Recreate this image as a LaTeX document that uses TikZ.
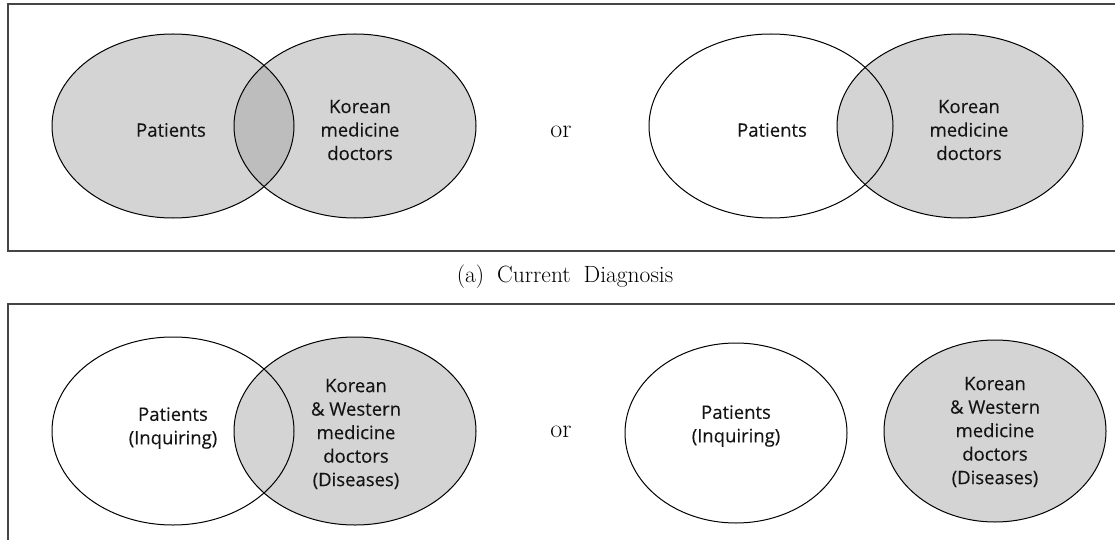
\documentclass[tikz,border=0pt]{standalone}
\usepackage{fontspec}
\newfontfamily\venn{Open Sans}[FakeBold=0.15]
\begin{document}
\begin{tikzpicture}[x=1pt,y=-1pt,
  vennfill/.style={fill=vgrey},
  vennline/.style={draw=black,line width=1pt},
  boxline/.style={draw=boxgrey,line width=1.5pt},
  lbl/.style={align=center,font=\venn\fontsize{18.5}{23.5}\selectfont,text=black!92,inner sep=0pt},
  ortext/.style={font=\fontsize{26}{30}\selectfont,inner sep=0pt},
  captext/.style={font=\fontsize{23.5}{28}\selectfont,inner sep=0pt}]
\definecolor{vgrey}{HTML}{D4D4D4}
\definecolor{vdark}{HTML}{BDBDBD}
\definecolor{boxgrey}{HTML}{454545}
\useasboundingbox (0,0) rectangle (1115,540);
% boxes
\draw[boxline] (1125,4) -- (8,4) -- (8,251) -- (1125,251);
\draw[boxline] (1125,304) -- (8,304) -- (8,545);
% ---- top-left: both grey, darker lens
\fill[vennfill] (173,126) ellipse [x radius=121,y radius=92];
\fill[vennfill] (355,126) ellipse [x radius=121,y radius=92];
\begin{scope}
  \clip (173,126) ellipse [x radius=121,y radius=92];
  \fill[vdark] (355,126) ellipse [x radius=121,y radius=92];
\end{scope}
\draw[vennline] (173,126) ellipse [x radius=121,y radius=92];
\draw[vennline] (355,126) ellipse [x radius=121,y radius=92];
\node[lbl] (p1) at (171,130) {Patients};
\node[lbl] (k1) at (360,130) {Korean\\medicine\\doctors};
\node[ortext] (or1) at (561,132) {or};
% ---- top-right: left white, right grey
\fill[vennfill] (960,126) ellipse [x radius=123,y radius=92];
\draw[vennline] (771,126) ellipse [x radius=122,y radius=92];
\draw[vennline] (960,126) ellipse [x radius=123,y radius=92];
\node[lbl] (p2) at (772,130) {Patients};
\node[lbl] (k2) at (969,130) {Korean\\medicine\\doctors};
% caption
\node[captext] (cap) at (565,277) {(a)\hspace{0.55em}Current\hspace{0.55em}Diagnosis};
% ---- bottom-left
\fill[vennfill] (355,431) ellipse [x radius=121,y radius=94];
\draw[vennline] (173,431) ellipse [x radius=121,y radius=94];
\draw[vennline] (355,431) ellipse [x radius=121,y radius=94];
\node[lbl] (p3) at (173,428) {Patients\\(Inquiring)};
\node[lbl] (k3) at (356,434) {Korean\\\& Western\\medicine\\doctors\\(Diseases)};
\node[ortext] (or2) at (561,432) {or};
% ---- bottom-right
\draw[vennline] (736,433) ellipse [x radius=111,y radius=90];
\fill[vennfill] (995,431) ellipse [x radius=111,y radius=91];
\draw[vennline] (995,431) ellipse [x radius=111,y radius=91];
\node[lbl] (p4) at (736,426) {Patients\\(Inquiring)};
\node[lbl] (k4) at (995,432) {Korean\\\& Western\\medicine\\doctors\\(Diseases)};
\end{tikzpicture}
\end{document}
